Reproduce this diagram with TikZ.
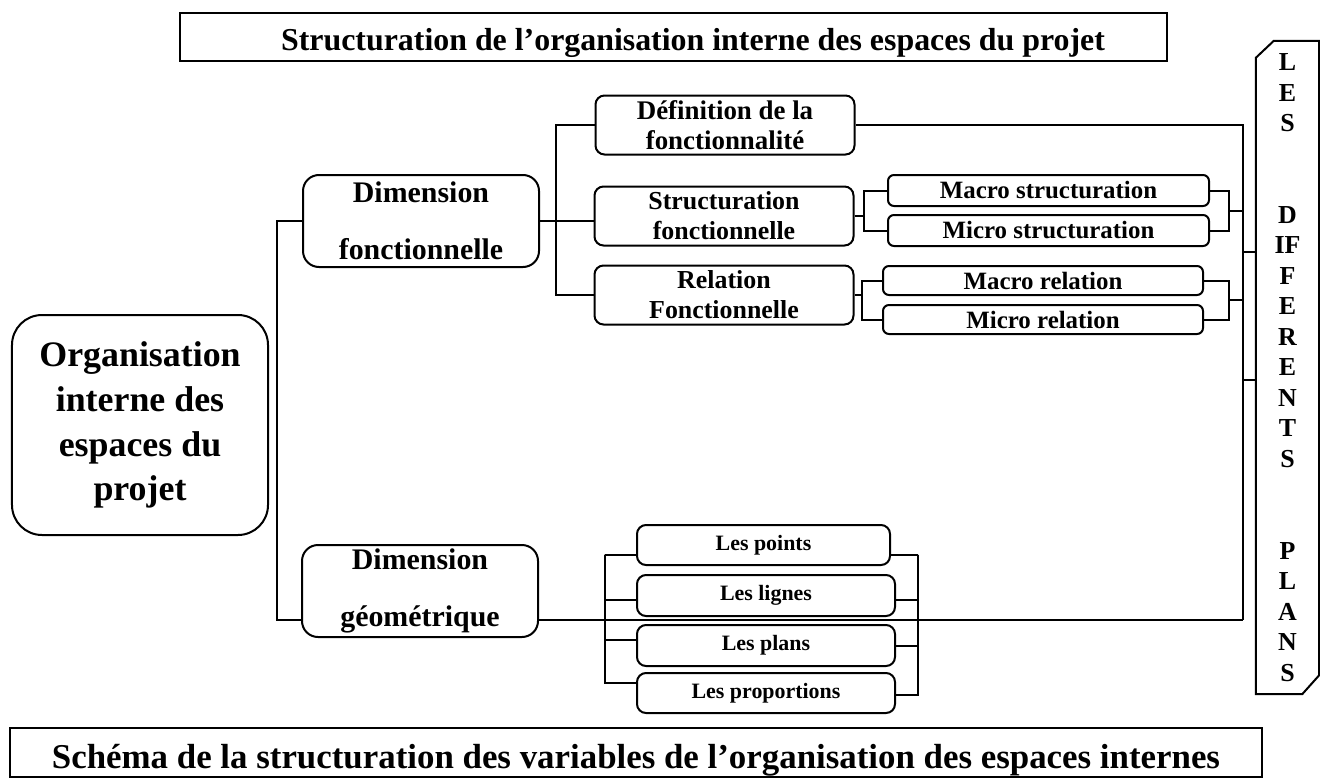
\documentclass[tikz,border=0pt]{standalone}
\usepackage{fontspec}
\setmainfont{Liberation Serif}
\usetikzlibrary{positioning, calc}

\begin{document}
\begin{tikzpicture}[
  x=1bp, y=-1bp,
  frame/.style={
    rectangle, draw, line width=2bp, align=center, inner sep=0pt
  },
  rbox/.style={frame, rounded corners=9bp},
  mainbox/.style={
    frame, rounded corners=30bp, minimum width=256bp, minimum height=220bp,
    font=\bfseries\fontsize{36}{45}\selectfont
  },
  dimbox/.style={
    rbox, rounded corners=16bp, minimum width=236bp, minimum height=92bp,
    font=\bfseries\fontsize{30}{57}\selectfont
  },
  subbox/.style={
    rbox, minimum width=259bp, minimum height=59bp,
    font=\bfseries\fontsize{26}{30}\selectfont
  },
  leafbox/.style={
    rbox, rounded corners=6bp, minimum width=321bp, minimum height=31bp,
    font=\bfseries\fontsize{25}{30}\selectfont
  },
  geobox/.style={
    rbox, minimum width=258bp, minimum height=41bp,
    font=\bfseries\fontsize{22}{26}\selectfont
  },
  link/.style={line width=2bp},
]

\useasboundingbox (0,0) rectangle (1320,778);

% Titles
\node[frame, minimum width=987bp, minimum height=47bp] (title) at (673.5,37) {};
\node[font=\bfseries\fontsize{32}{36}\selectfont, anchor=base] (titletext) at (693,51)
  {Structuration de l’organisation interne des espaces du projet};

\node[frame, minimum width=1252bp, minimum height=49bp, text height=31bp, text depth=0bp,
  font=\bfseries\fontsize{35}{40}\selectfont] (caption) at (636,752.5)
  {Schéma de la structuration des variables de l’organisation des espaces internes};

% Root
\node[mainbox] (org) at (140,425) {Organisation\\interne des\\espaces du\\projet};

% Dimensions
\node[dimbox] (dimf) at (421,221) {Dimension\\fonctionnelle};
\node[dimbox] (dimg) at (420,591) {Dimension\\géométrique};

% Functional side
\node[subbox, font=\bfseries\fontsize{27}{30}\selectfont] (def) at (725,125) {Définition de la\\fonctionnalité};
\node[subbox] (struct) at (724,216) {Structuration\\fonctionnelle};
\node[subbox] (rel) at (724,295) {Relation\\Fonctionnelle};

\node[leafbox] (macs) at (1048.5,190.5) {Macro structuration};
\node[leafbox, below=7bp of macs] (mics) {Micro structuration};
\node[leafbox, minimum width=320bp, minimum height=29bp] (macr) at (1043,280.5) {Macro relation};
\node[leafbox, minimum width=320bp, minimum height=29bp, below=8bp of macr] (micr) {Micro relation};

% Geometric side
\node[geobox, minimum width=253bp, minimum height=40bp] (gpoints) at (763.5,545) {Les points};
\node[geobox] (glignes) at (766,595.5) {Les lignes};
\node[geobox] (gplans) at (766,645.5) {Les plans};
\node[geobox, minimum height=40bp] (gprops) at (766,693) {Les proportions};

% Plans (vertical)
\node[inner sep=0pt, minimum width=63bp, minimum height=653bp, align=center,
  font=\bfseries\fontsize{26}{30.65}\selectfont] (vplans) at (1287.5,367.5)
  {L\\E\\S\\~\\~\\D\\IF\\F\\E\\R\\E\\N\\T\\S\\~\\~\\P\\L\\A\\N\\S};
\draw[link] ([yshift=-17bp]vplans.north west) -- ([xshift=18bp]vplans.north west)
  -- (vplans.north east) -- ([yshift=19bp]vplans.south east)
  -- ([xshift=-17bp]vplans.south east) -- (vplans.south west) -- cycle;

% Helper points
\coordinate (trunk) at (277,222);
\coordinate (vbar) at (1243,125);
\coordinate (gline) at ([yshift=-29bp]dimg.west);
\coordinate (gl) at (605,555);
\coordinate (gr) at (918,555);
\coordinate (s1) at (1243,252);
\coordinate (s2) at (1243,380);

% Trunk
\draw[link] (dimf.west) -- (dimf.west -| trunk) -- (gline -| trunk) -- (gline);

% Functional links
\draw[link] (dimf.east) -- (dimf.east -| struct.west);
\draw[link] (def.west) -- ++(-39,0) |- (rel.west);

\draw[link] (macs.west) -- ++(-23,0) coordinate (sb) |- (mics.west);
\draw[link] (struct.east) -- (struct.east -| sb);
\draw[link] (macs.east) -- ++(19,0) coordinate (se) |- (mics.east);
\coordinate (sm) at ($(se)!0.5!(se |- mics.east)$);
\draw[link] (sm) -- (sm -| vbar);

\draw[link] (macr.west) -- ++(-20,0) coordinate (rb) |- (micr.west);
\draw[link] (rel.east) -- (rel.east -| rb);
\draw[link] (macr.east) -- ++(25,0) coordinate (re) |- (micr.east);
\coordinate (rm) at ($(re)!0.5!(re |- micr.east)$);
\draw[link] (rm) -- (rm -| vbar);

% Collector to plans
\draw[link] (def.east) -- (vbar) -- (gline -| vbar);
\draw[link] (gline -| dimg.east) -- (gline -| vbar);
\draw[link] (s1) -- (s1 -| vplans.west);
\draw[link] (s2) -- (s2 -| vplans.west);

% Geometric brackets
\foreach \n/\dy in {gpoints/-10, glignes/-4, gplans/6, gprops/10}
  \draw[link] ([yshift=\dy bp]\n.west) -| (gl);
\foreach \n/\dy in {gpoints/-10, glignes/-4, gplans/0, gprops/-2}
  \draw[link] ([yshift=\dy bp]\n.east) -| (gr);

\end{tikzpicture}
\end{document}
